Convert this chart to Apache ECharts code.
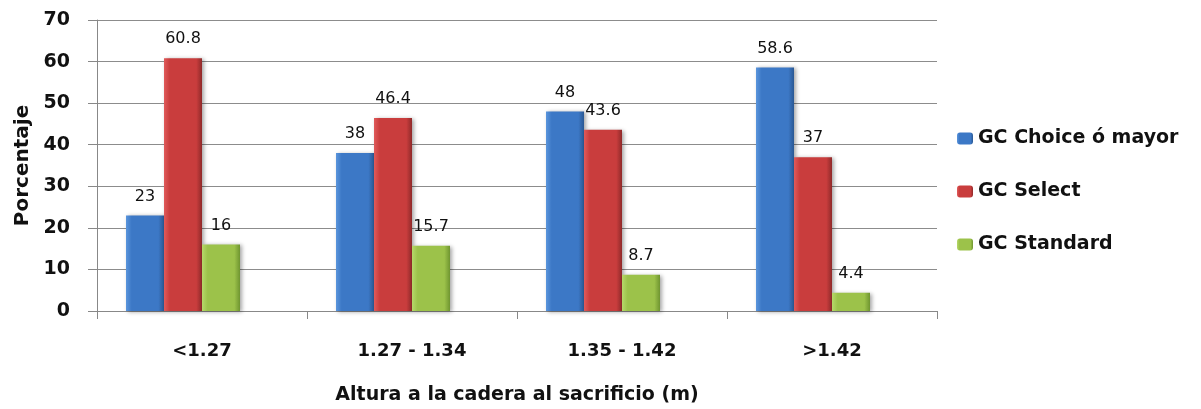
<!DOCTYPE html>
<html>
<head>
<meta charset="utf-8">
<script src="https://cdn.jsdelivr.net/npm/echarts@6/dist/echarts.min.js"></script>
<style>
  html, body { margin: 0; padding: 0; background: #fff; }
  #chart { width: 1201px; height: 409px; }
</style>
</head>
<body>
<div id="chart"></div>
<script>
const categories = ['<1.27', '1.27 - 1.34', '1.35 - 1.42', '>1.42'];
const choice = [23, 38, 48, 58.6];
const select = [60.8, 46.4, 43.6, 37];
const standard = [16, 15.7, 8.7, 4.4];
const yTicks = { min: 0, max: 70, interval: 10 };

const FONT = '"DejaVu Sans", sans-serif';

// horizontal gradient to fake the bevelled 3D look of the original
function bevel(light, mid, dark) {
  return new echarts.graphic.LinearGradient(0, 0, 1, 0, [
    { offset: 0, color: light },
    { offset: 0.15, color: mid },
    { offset: 0.85, color: mid },
    { offset: 1, color: dark }
  ]);
}

function barSeries(name, data, fill) {
  return {
    name, type: 'bar', data,
    barWidth: 38, barGap: '0%',
    itemStyle: {
      color: fill,
      shadowColor: 'rgba(0,0,0,0.35)', shadowBlur: 4, shadowOffsetX: 2, shadowOffsetY: 1
    },
    label: {
      show: true, position: 'top', distance: 11,
      fontFamily: FONT, fontSize: 16, color: '#111'
    }
  };
}

const chart = echarts.init(document.getElementById('chart'));
chart.setOption({
  animation: false,
  grid: { left: 97, right: 264, top: 20, bottom: 98, outerBoundsMode: 'none' },
  legend: {
    orient: 'vertical', left: 957, top: 129, padding: 0,
    data: ['GC Choice ó mayor', 'GC Select', 'GC Standard'],
    itemWidth: 16, itemHeight: 12, itemGap: 34,
    textStyle: { fontFamily: FONT, fontWeight: 'bold', fontSize: 19, color: '#111' }
  },
  xAxis: {
    type: 'category', data: categories,
    name: 'Altura a la cadera al sacrificio (m)',
    nameLocation: 'middle', nameGap: 75,
    nameTextStyle: { fontFamily: FONT, fontWeight: 'bold', fontSize: 19, color: '#111' },
    axisLine: { lineStyle: { color: '#888' } },
    axisTick: { show: true, length: 8, lineStyle: { color: '#888' } },
    axisLabel: { margin: 31, fontFamily: FONT, fontWeight: 'bold', fontSize: 18, color: '#111' }
  },
  yAxis: {
    type: 'value', min: yTicks.min, max: yTicks.max, interval: yTicks.interval,
    name: 'Porcentaje', nameLocation: 'middle', nameGap: 63,
    nameTextStyle: { fontFamily: FONT, fontWeight: 'bold', fontSize: 20, color: '#111' },
    axisLine: { show: true, lineStyle: { color: '#888' } },
    axisTick: { show: true, length: 9, lineStyle: { color: '#888' } },
    axisLabel: { margin: 27, fontFamily: FONT, fontWeight: 'bold', fontSize: 19, color: '#111' },
    splitLine: { lineStyle: { color: '#8c8c8c' } }
  },
  series: [
    barSeries('GC Choice ó mayor', choice, bevel('#5a95dc', '#3c78c6', '#2a5893')),
    barSeries('GC Select', select, bevel('#e05a5a', '#c93d3d', '#8f2a2a')),
    barSeries('GC Standard', standard, bevel('#b6d86a', '#9cc24a', '#6f9530')),
    // empty spacer slot: the original draws its bar groups left of the category centre
    { name: 'spacer', type: 'bar', data: categories.map(() => null), barWidth: 38, barGap: '0%' }
  ]
});
</script>
</body>
</html>
